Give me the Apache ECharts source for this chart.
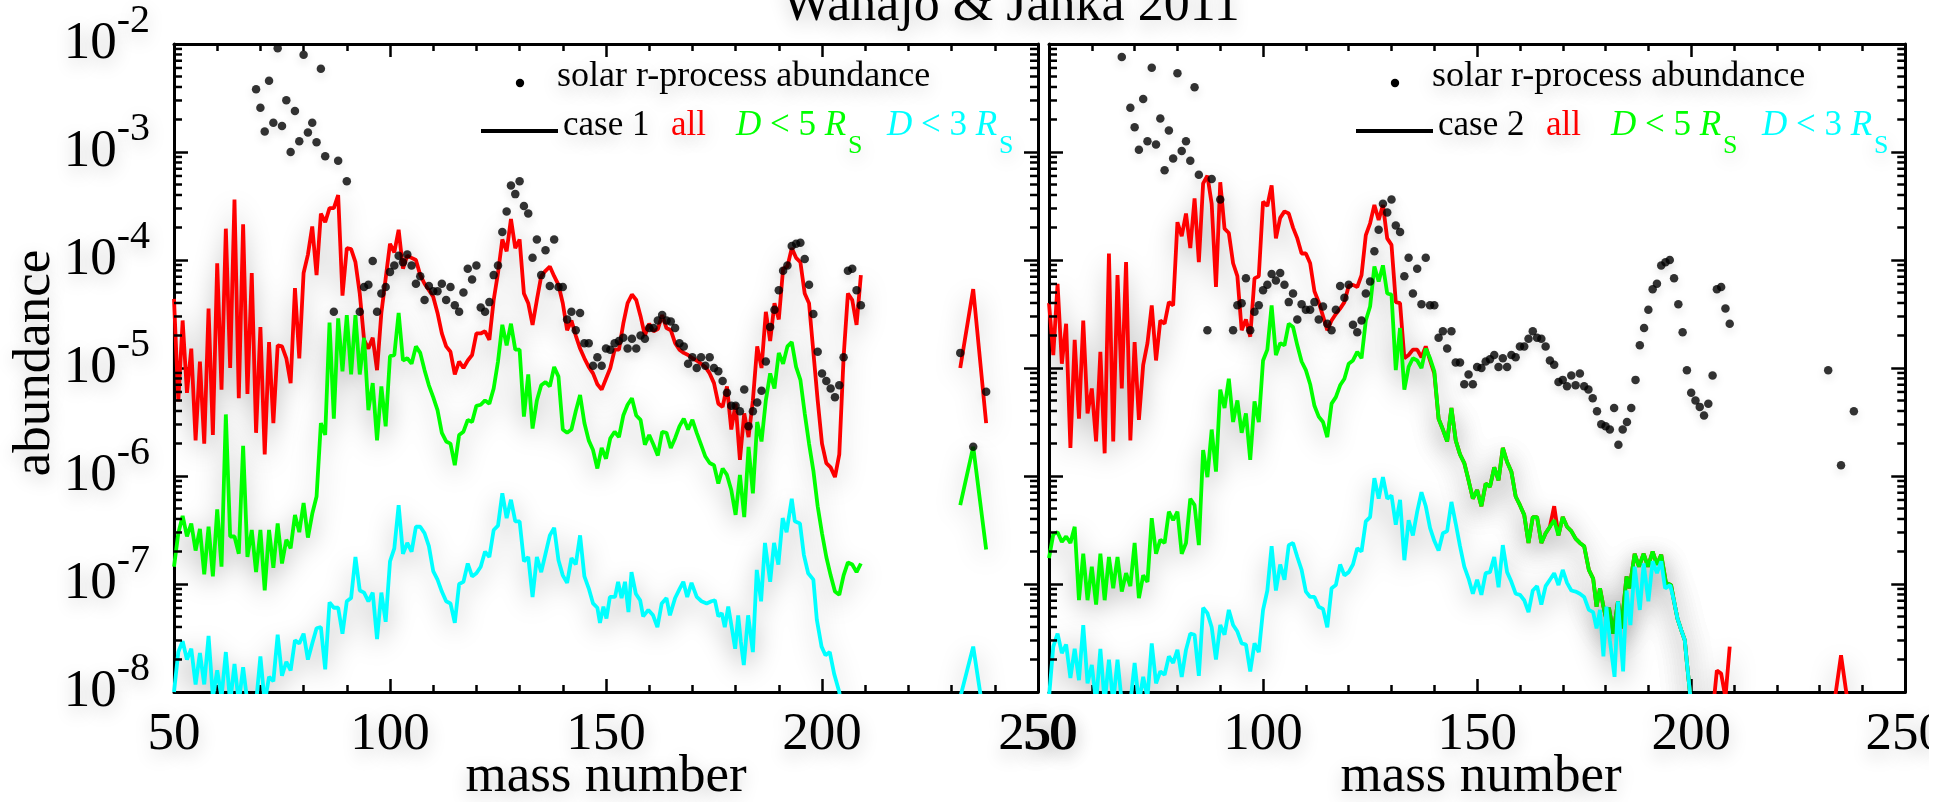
<!DOCTYPE html>
<html>
<head>
<meta charset="utf-8">
<title>Wanajo & Janka 2011</title>
<script src="https://cdn.jsdelivr.net/npm/echarts@6/dist/echarts.min.js"></script>
<style>
  html, body { margin: 0; padding: 0; background: #fff; }
  #chart { width: 1948px; height: 802px; }
</style>
</head>
<body>
<div id="chart"></div>
<script>
// every series: [mass number, log10(abundance)]
// solar r-process abundance (left panel, scaled to case 1)
const solarCase1 = [[69,-2.42],[70,-2.59],[71,-2.81],[72,-2.34],[73,-2.73],[74,-2.04],[75,-2.76],[76,-2.52],[77,-3.00],[78,-2.62],[79,-2.90],[80,-2.10],[81,-2.82],[82,-2.73],[83,-2.91],[84,-2.23],[85,-3.04],[87,-4.48],[88,-3.08],[90,-3.27],[93,-4.48],[94,-4.25],[95,-4.23],[96,-4.01],[97,-4.48],[98,-4.31],[99,-4.25],[100,-4.11],[101,-4.05],[102,-3.96],[103,-4.02],[104,-3.95],[105,-4.05],[106,-4.22],[107,-4.15],[108,-4.37],[109,-4.24],[110,-4.29],[111,-4.29],[112,-4.22],[113,-4.37],[114,-4.25],[115,-4.42],[116,-4.48],[117,-4.30],[118,-4.08],[119,-4.18],[120,-4.05],[121,-4.44],[122,-4.48],[123,-4.39],[124,-4.14],[125,-4.05],[126,-3.74],[127,-3.55],[128,-3.31],[129,-3.39],[130,-3.27],[131,-3.50],[132,-3.57],[133,-3.98],[134,-3.81],[135,-4.14],[136,-3.91],[137,-4.24],[138,-3.81],[139,-4.25],[140,-4.25],[141,-4.55],[142,-4.48],[143,-4.65],[144,-4.49],[145,-4.77],[146,-4.77],[147,-4.98],[148,-4.90],[149,-4.98],[150,-4.82],[151,-4.83],[152,-4.77],[153,-4.75],[154,-4.72],[155,-4.82],[156,-4.73],[157,-4.82],[158,-4.70],[159,-4.73],[160,-4.63],[161,-4.63],[162,-4.56],[163,-4.51],[164,-4.56],[165,-4.57],[166,-4.63],[167,-4.77],[168,-4.80],[169,-4.96],[170,-4.90],[171,-5.00],[172,-4.90],[173,-4.98],[174,-4.90],[175,-5.00],[176,-5.03],[177,-5.12],[178,-5.23],[179,-5.35],[180,-5.35],[181,-5.40],[182,-5.20],[183,-5.54],[184,-5.40],[185,-5.32],[186,-5.21],[187,-4.94],[188,-4.62],[189,-4.46],[190,-4.28],[191,-4.10],[192,-4.05],[193,-3.87],[194,-3.85],[195,-3.84],[196,-3.99],[197,-4.23],[198,-4.50],[199,-4.85],[200,-5.05],[201,-5.12],[202,-5.19],[203,-5.27],[204,-5.16],[205,-4.90],[206,-4.10],[207,-4.08],[208,-4.28],[209,-4.42],[232,-4.86],[235,-5.73],[238,-5.22]];

// solar r-process abundance (right panel, scaled to case 2)
const solarCase2 = [[67,-2.12],[69,-2.59],[70,-2.77],[71,-2.98],[72,-2.51],[73,-2.90],[74,-2.22],[75,-2.93],[76,-2.69],[77,-3.17],[78,-2.80],[79,-3.06],[80,-2.27],[81,-2.99],[82,-2.90],[83,-3.08],[84,-2.40],[85,-3.21],[87,-4.65],[88,-3.25],[90,-3.44],[93,-4.65],[94,-4.42],[95,-4.40],[96,-4.17],[97,-4.65],[98,-4.48],[99,-4.42],[100,-4.28],[101,-4.23],[102,-4.13],[103,-4.19],[104,-4.12],[105,-4.23],[106,-4.39],[107,-4.31],[108,-4.55],[109,-4.41],[110,-4.46],[111,-4.46],[112,-4.39],[113,-4.55],[114,-4.43],[115,-4.59],[116,-4.65],[117,-4.46],[118,-4.24],[119,-4.35],[120,-4.23],[121,-4.60],[122,-4.67],[123,-4.56],[124,-4.31],[125,-4.20],[126,-3.92],[127,-3.72],[128,-3.48],[129,-3.56],[130,-3.44],[131,-3.68],[132,-3.74],[133,-4.15],[134,-3.98],[135,-4.31],[136,-4.08],[137,-4.41],[138,-3.98],[139,-4.42],[140,-4.42],[141,-4.72],[142,-4.66],[143,-4.82],[144,-4.66],[145,-4.95],[146,-4.95],[147,-5.15],[148,-5.06],[149,-5.15],[150,-4.99],[151,-5.00],[152,-4.94],[153,-4.92],[154,-4.88],[155,-4.99],[156,-4.91],[157,-4.99],[158,-4.88],[159,-4.90],[160,-4.80],[161,-4.80],[162,-4.73],[163,-4.66],[164,-4.72],[165,-4.73],[166,-4.80],[167,-4.93],[168,-4.97],[169,-5.13],[170,-5.11],[171,-5.17],[172,-5.07],[173,-5.16],[174,-5.05],[175,-5.17],[176,-5.20],[177,-5.28],[178,-5.40],[179,-5.52],[180,-5.54],[181,-5.57],[182,-5.37],[183,-5.71],[184,-5.57],[185,-5.50],[186,-5.37],[187,-5.11],[188,-4.79],[189,-4.63],[190,-4.46],[191,-4.27],[192,-4.22],[193,-4.05],[194,-4.02],[195,-4.00],[196,-4.17],[197,-4.41],[198,-4.67],[199,-5.02],[200,-5.23],[201,-5.30],[202,-5.36],[203,-5.44],[204,-5.33],[205,-5.07],[206,-4.27],[207,-4.25],[208,-4.45],[209,-4.59],[232,-5.02],[235,-5.90],[238,-5.40]];

// case 1
const allCase1 = [[50,-4.36],[51,-5.31],[52,-4.56],[53,-5.23],[54,-4.82],[55,-5.67],[56,-4.94],[57,-5.70],[58,-4.45],[59,-5.62],[60,-4.03],[61,-5.20],[62,-3.71],[63,-5.00],[64,-3.44],[65,-5.28],[66,-3.67],[67,-5.24],[68,-4.12],[69,-5.60],[70,-4.62],[71,-5.80],[72,-4.76],[73,-5.51],[74,-4.79],[75,-4.80],[76,-4.91],[77,-5.14],[78,-4.26],[79,-4.91],[80,-4.12],[81,-3.95],[82,-3.69],[83,-4.14],[84,-3.57],[85,-3.65],[86,-3.52],[87,-3.52],[88,-3.40],[89,-4.33],[90,-3.89],[91,-3.90],[92,-4.02],[93,-4.31],[94,-4.74],[95,-4.82],[96,-4.72],[97,-5.02],[98,-4.49],[99,-4.17],[100,-3.85],[101,-3.93],[102,-3.72],[103,-4.08],[104,-3.96],[105,-3.98],[106,-4.00],[107,-4.14],[108,-4.22],[109,-4.28],[110,-4.34],[111,-4.49],[112,-4.68],[113,-4.80],[114,-4.85],[115,-5.06],[116,-4.94],[117,-5.00],[118,-4.93],[119,-4.88],[120,-4.68],[121,-4.68],[122,-4.66],[123,-4.74],[124,-4.37],[125,-4.12],[126,-3.81],[127,-3.92],[128,-3.62],[129,-3.89],[130,-3.81],[131,-4.31],[132,-4.40],[133,-4.60],[134,-4.37],[135,-4.15],[136,-4.10],[137,-4.06],[138,-4.15],[139,-4.23],[140,-4.40],[141,-4.65],[142,-4.56],[143,-4.70],[144,-4.82],[145,-4.91],[146,-4.99],[147,-5.05],[148,-5.15],[149,-5.20],[150,-5.10],[151,-5.00],[152,-4.83],[153,-4.83],[154,-4.59],[155,-4.40],[156,-4.32],[157,-4.37],[158,-4.52],[159,-4.70],[160,-4.59],[161,-4.66],[162,-4.64],[163,-4.51],[164,-4.63],[165,-4.65],[166,-4.77],[167,-4.83],[168,-4.86],[169,-4.88],[170,-4.91],[171,-4.93],[172,-4.96],[173,-4.99],[174,-5.05],[175,-5.14],[176,-5.33],[177,-5.36],[178,-5.17],[179,-5.57],[180,-5.33],[181,-5.85],[182,-5.42],[183,-5.64],[184,-5.30],[185,-4.80],[186,-5.00],[187,-4.48],[188,-4.75],[189,-4.40],[190,-4.55],[191,-4.08],[192,-4.06],[193,-3.89],[194,-3.98],[195,-4.02],[196,-4.31],[197,-4.40],[198,-4.85],[199,-5.30],[200,-5.70],[201,-5.88],[202,-5.92],[203,-6.01],[204,-5.80],[205,-4.90],[206,-4.31],[207,-4.37],[208,-4.60],[209,-4.14],[220,null],[232,-5.00],[235,-4.27],[238,-5.51]];

const d5Case1 = [[50,-6.84],[51,-6.53],[52,-6.37],[53,-6.56],[54,-6.44],[55,-6.69],[56,-6.49],[57,-6.91],[58,-6.47],[59,-6.93],[60,-6.31],[61,-6.84],[62,-5.43],[63,-6.56],[64,-6.56],[65,-6.72],[66,-5.72],[67,-6.75],[68,-6.50],[69,-6.89],[70,-6.50],[71,-7.06],[72,-6.50],[73,-6.85],[74,-6.44],[75,-6.81],[76,-6.59],[77,-6.67],[78,-6.36],[79,-6.52],[80,-6.25],[81,-6.57],[82,-6.35],[83,-6.19],[84,-5.51],[85,-5.62],[86,-4.58],[87,-5.47],[88,-4.54],[89,-5.03],[90,-4.51],[91,-5.06],[92,-4.51],[93,-5.06],[94,-4.72],[95,-5.39],[96,-5.14],[97,-5.67],[98,-5.17],[99,-5.54],[100,-4.89],[101,-4.88],[102,-4.49],[103,-4.93],[104,-4.91],[105,-4.96],[106,-4.80],[107,-4.86],[108,-5.02],[109,-5.16],[110,-5.27],[111,-5.39],[112,-5.60],[113,-5.68],[114,-5.70],[115,-5.90],[116,-5.62],[117,-5.59],[118,-5.48],[119,-5.50],[120,-5.35],[121,-5.34],[122,-5.30],[123,-5.33],[124,-5.19],[125,-4.94],[126,-4.60],[127,-4.79],[128,-4.59],[129,-4.83],[130,-4.83],[131,-5.45],[132,-5.06],[133,-5.56],[134,-5.30],[135,-5.16],[136,-5.13],[137,-5.17],[138,-4.99],[139,-5.08],[140,-5.57],[141,-5.60],[142,-5.57],[143,-5.40],[144,-5.25],[145,-5.51],[146,-5.67],[147,-5.76],[148,-5.93],[149,-5.74],[150,-5.84],[151,-5.65],[152,-5.59],[153,-5.64],[154,-5.44],[155,-5.34],[156,-5.28],[157,-5.44],[158,-5.48],[159,-5.71],[160,-5.62],[161,-5.71],[162,-5.81],[163,-5.59],[164,-5.60],[165,-5.74],[166,-5.65],[167,-5.54],[168,-5.47],[169,-5.57],[170,-5.48],[171,-5.60],[172,-5.71],[173,-5.82],[174,-5.88],[175,-5.90],[176,-6.07],[177,-5.93],[178,-5.99],[179,-6.13],[180,-6.36],[181,-5.99],[182,-6.38],[183,-5.73],[184,-6.16],[185,-5.50],[186,-5.68],[187,-5.30],[188,-5.05],[189,-5.19],[190,-4.86],[191,-4.96],[192,-4.80],[193,-4.76],[194,-4.99],[195,-5.11],[196,-5.42],[197,-5.70],[198,-5.95],[199,-6.28],[200,-6.53],[201,-6.75],[202,-6.92],[203,-7.07],[204,-7.10],[205,-6.92],[206,-6.80],[207,-6.82],[208,-6.89],[209,-6.81],[220,null],[232,-6.27],[235,-5.73],[238,-6.68]];

const d3Case1 = [[50,-8.00],[51,-7.63],[52,-7.53],[53,-7.70],[54,-7.60],[55,-7.93],[56,-7.64],[57,-7.93],[58,-7.48],[59,-8.05],[60,-7.80],[61,-8.05],[62,-7.63],[63,-8.10],[64,-7.74],[65,-8.10],[66,-7.77],[67,-8.10],[68,-8.10],[69,-8.10],[70,-7.67],[71,-8.10],[72,-7.86],[73,-7.90],[74,-7.47],[75,-7.85],[76,-7.72],[77,-7.80],[78,-7.52],[79,-7.55],[80,-7.46],[81,-7.70],[82,-7.55],[83,-7.41],[84,-7.40],[85,-7.79],[86,-7.17],[87,-7.22],[88,-7.22],[89,-7.46],[90,-7.16],[91,-7.13],[92,-6.75],[93,-7.06],[94,-7.08],[95,-7.16],[96,-7.08],[97,-7.51],[98,-7.08],[99,-7.35],[100,-6.79],[101,-6.67],[102,-6.27],[103,-6.72],[104,-6.62],[105,-6.70],[106,-6.47],[107,-6.47],[108,-6.53],[109,-6.65],[110,-6.88],[111,-6.96],[112,-7.07],[113,-7.16],[114,-7.18],[115,-7.36],[116,-7.00],[117,-6.98],[118,-6.81],[119,-6.93],[120,-6.90],[121,-6.84],[122,-6.70],[123,-6.75],[124,-6.50],[125,-6.46],[126,-6.16],[127,-6.39],[128,-6.22],[129,-6.42],[130,-6.42],[131,-6.79],[132,-6.75],[133,-7.12],[134,-6.75],[135,-6.89],[136,-6.72],[137,-6.55],[138,-6.48],[139,-6.78],[140,-6.92],[141,-6.99],[142,-6.76],[143,-6.82],[144,-6.55],[145,-6.93],[146,-7.04],[147,-7.18],[148,-7.22],[148.6,-7.36],[149.4,-7.21],[150.1,-7.32],[150.9,-7.12],[152.1,-7.12],[152.8,-6.98],[153.6,-7.13],[154.4,-6.98],[155.2,-7.26],[155.9,-6.89],[156.9,-7.09],[157.9,-7.15],[158.6,-7.30],[159.8,-7.24],[160.9,-7.29],[161.9,-7.40],[162.9,-7.18],[164,-7.13],[164.8,-7.29],[166,-7.13],[167.1,-7.04],[167.9,-6.98],[168.8,-7.12],[169.8,-6.99],[171,-7.12],[172.1,-7.16],[173.3,-7.18],[174.4,-7.16],[175.2,-7.15],[176,-7.30],[176.8,-7.27],[177.5,-7.40],[178.3,-7.21],[179.1,-7.40],[179.9,-7.60],[180.6,-7.29],[181.2,-7.53],[181.9,-7.75],[182.9,-7.29],[184,-7.63],[184.9,-6.87],[185.9,-7.16],[186.8,-6.62],[188,-6.98],[188.9,-6.62],[189.9,-6.82],[190.9,-6.39],[191.8,-6.52],[193,-6.21],[193.7,-6.42],[194.9,-6.44],[195.8,-6.73],[196.8,-6.90],[198,-6.96],[198.8,-7.33],[199.9,-7.58],[200.8,-7.66],[201.8,-7.63],[202.8,-7.83],[204,-8.00],[205,-8.30],[220,null],[232,-8.05],[235,-7.58],[238,-8.37]];

// case 2
const allCase2 = [[50,-4.40],[51,-4.88],[52,-4.22],[53,-4.96],[54,-4.59],[55,-5.74],[56,-4.74],[57,-5.47],[58,-4.56],[59,-5.42],[60,-5.19],[61,-5.68],[62,-4.85],[63,-5.79],[64,-3.94],[65,-5.68],[66,-4.14],[67,-5.19],[68,-4.02],[69,-5.67],[70,-4.76],[71,-5.48],[72,-4.97],[73,-4.77],[74,-4.42],[75,-4.93],[76,-4.56],[77,-4.59],[78,-4.39],[79,-4.42],[80,-3.65],[81,-3.78],[82,-3.57],[83,-3.89],[84,-3.43],[85,-4.02],[86,-3.29],[87,-3.22],[88,-3.48],[89,-4.25],[90,-3.28],[91,-3.71],[92,-3.75],[93,-4.03],[94,-4.15],[95,-4.65],[96,-4.55],[97,-4.71],[98,-4.17],[99,-4.15],[100,-3.46],[101,-3.50],[102,-3.31],[103,-3.80],[104,-3.61],[105,-3.55],[106,-3.57],[107,-3.70],[108,-3.80],[109,-3.94],[110,-3.94],[111,-4.03],[112,-4.29],[113,-4.39],[114,-4.52],[115,-4.65],[116,-4.56],[117,-4.50],[118,-4.45],[119,-4.39],[120,-4.24],[121,-4.23],[122,-4.25],[123,-4.14],[124,-3.77],[125,-3.66],[126,-3.49],[127,-3.63],[128,-3.49],[129,-3.80],[130,-3.86],[131,-4.39],[132,-4.40],[133,-4.91],[134,-4.88],[135,-4.83],[136,-4.83],[137,-4.90],[138,-4.80],[139,-4.93],[140,-5.05],[141,-5.47],[142,-5.57],[143,-5.68],[144,-5.37],[145,-5.67],[146,-5.80],[147,-5.88],[148,-6.04],[149,-6.21],[150,-6.13],[151,-6.28],[152,-6.07],[153,-6.10],[154,-5.92],[155,-6.04],[156,-5.74],[157,-5.87],[158,-5.96],[159,-6.19],[160,-6.27],[161,-6.36],[162,-6.62],[163,-6.38],[164,-6.38],[165,-6.62],[166,-6.53],[167,-6.47],[168,-6.28],[169,-6.55],[170,-6.38],[171,-6.47],[172,-6.51],[173,-6.58],[174,-6.62],[175,-6.65],[176.1,-6.87],[177.1,-6.95],[177.9,-7.21],[178.7,-7.04],[179.5,-7.21],[180.2,-7.33],[180.8,-7.22],[181.8,-7.46],[182.9,-7.16],[183.7,-7.41],[184.9,-6.93],[185.6,-7.04],[186.8,-6.72],[187.8,-6.84],[188.9,-6.72],[189.9,-6.84],[191,-6.70],[192,-6.82],[193,-6.73],[194.1,-6.99],[195.3,-7.01],[196,-7.16],[196.8,-7.32],[197.7,-7.43],[198.5,-7.52],[199,-7.73],[199.7,-8.00],[201,-8.40],[204,-8.40],[205,-8.20],[206,-7.80],[207,-7.83],[208,-8.05],[209,-7.58],[220,null],[232,-8.50],[235,-7.66],[238,-8.50]];

const d5Case2 = [[50,-6.76],[51,-6.54],[52,-6.52],[53,-6.61],[54,-6.56],[55,-6.62],[56,-6.47],[57,-7.15],[58,-6.72],[59,-7.15],[60,-6.84],[61,-7.19],[62,-6.72],[63,-7.15],[64,-6.75],[65,-7.04],[66,-6.75],[67,-7.07],[68,-6.90],[69,-7.02],[70,-6.62],[71,-7.13],[72,-6.92],[73,-6.98],[74,-6.39],[75,-6.72],[76,-6.59],[77,-6.62],[78,-6.33],[79,-6.41],[80,-6.33],[81,-6.72],[82,-6.62],[83,-6.21],[84,-6.27],[85,-6.64],[86,-5.76],[87,-6.01],[88,-5.57],[89,-5.96],[90,-5.20],[91,-5.37],[92,-5.10],[93,-5.50],[94,-5.30],[95,-5.60],[96,-5.42],[97,-5.85],[98,-5.31],[99,-5.50],[100,-4.93],[101,-4.83],[102,-4.42],[103,-4.88],[104,-4.77],[105,-4.79],[106,-4.59],[107,-4.62],[108,-4.79],[109,-4.94],[110,-5.02],[111,-5.15],[112,-5.35],[113,-5.45],[114,-5.50],[115,-5.64],[116,-5.33],[117,-5.27],[118,-5.16],[119,-5.10],[120,-4.96],[121,-4.93],[122,-4.85],[123,-4.91],[124,-4.56],[125,-4.43],[126,-4.06],[127,-4.20],[128,-4.05],[129,-4.31],[130,-4.32],[131,-5.02],[132,-4.63],[133,-5.20],[134,-4.99],[135,-4.91],[136,-4.93],[137,-5.00],[138,-4.82],[139,-4.91],[140,-5.03],[141,-5.47],[142,-5.57],[143,-5.68],[144,-5.37],[145,-5.67],[146,-5.80],[147,-5.88],[148,-6.04],[149,-6.21],[150,-6.13],[151,-6.28],[152,-6.07],[153,-6.10],[154,-5.92],[155,-6.04],[156,-5.74],[157,-5.87],[158,-5.96],[159,-6.19],[160,-6.27],[161,-6.36],[162,-6.62],[163,-6.38],[164,-6.38],[165,-6.62],[166,-6.53],[167,-6.47],[168,-6.41],[169,-6.55],[170,-6.38],[171,-6.47],[172,-6.51],[173,-6.58],[174,-6.62],[175,-6.65],[176.1,-6.87],[177.1,-6.95],[177.9,-7.21],[178.7,-7.04],[179.5,-7.21],[180.2,-7.33],[180.8,-7.22],[181.8,-7.46],[182.9,-7.16],[183.7,-7.41],[184.9,-6.93],[185.6,-7.04],[186.8,-6.72],[187.8,-6.84],[188.9,-6.72],[189.9,-6.84],[191,-6.70],[192,-6.82],[193,-6.73],[194.1,-6.99],[195.3,-7.01],[196,-7.16],[196.8,-7.32],[197.7,-7.43],[198.5,-7.52],[199,-7.73],[199.7,-8.00],[201,-8.40]];

const d3Case2 = [[50,-8.05],[51,-7.58],[52,-7.46],[53,-7.64],[54,-7.56],[55,-7.87],[56,-7.60],[57,-7.89],[58,-7.38],[59,-7.92],[60,-7.75],[61,-8.10],[62,-7.60],[63,-8.10],[64,-7.70],[65,-8.10],[66,-7.70],[67,-8.10],[68,-8.10],[69,-8.10],[70,-7.73],[71,-8.10],[72,-7.86],[73,-8.05],[74,-7.55],[75,-7.92],[76,-7.81],[77,-7.84],[78,-7.67],[79,-7.73],[80,-7.61],[81,-7.86],[82,-7.61],[83,-7.46],[84,-7.47],[85,-7.85],[86,-7.22],[87,-7.27],[88,-7.40],[89,-7.70],[90,-7.38],[91,-7.47],[92,-7.24],[93,-7.38],[94,-7.44],[95,-7.55],[96,-7.56],[97,-7.81],[98,-7.55],[99,-7.63],[100,-7.24],[101,-7.06],[102,-6.65],[103,-7.06],[104,-6.82],[105,-6.96],[106,-6.64],[107,-6.62],[108,-6.75],[109,-6.87],[110,-7.07],[111,-7.12],[112,-7.12],[113,-7.21],[114,-7.23],[115,-7.40],[116,-7.04],[117,-7.01],[118,-6.82],[119,-6.92],[120,-6.89],[121,-6.82],[122,-6.67],[123,-6.70],[124,-6.42],[125,-6.38],[126,-6.02],[127,-6.21],[128,-6.01],[129,-6.21],[130,-6.18],[131,-6.45],[132,-6.22],[133,-6.78],[134,-6.41],[135,-6.55],[136,-6.33],[137,-6.15],[138,-6.28],[139,-6.48],[140,-6.60],[141,-6.69],[142,-6.53],[143,-6.51],[144,-6.24],[145,-6.44],[146,-6.65],[147,-6.84],[148,-6.95],[149,-7.09],[150,-6.96],[151,-7.10],[152,-6.90],[153,-6.89],[154,-6.75],[155,-7.03],[156,-6.64],[157,-6.89],[158,-6.98],[159,-7.09],[160,-7.10],[161,-7.15],[162,-7.26],[163,-7.06],[164,-7.02],[165,-7.19],[166,-7.02],[167,-6.96],[168,-6.90],[169,-7.01],[170,-6.87],[171,-6.99],[172,-7.06],[173,-7.07],[174,-7.09],[175,-7.12],[176.1,-7.24],[177.1,-7.26],[177.9,-7.41],[178.7,-7.24],[179.5,-7.67],[180.2,-7.21],[181,-7.52],[182.1,-7.86],[182.9,-7.16],[184.1,-7.81],[184.9,-7.06],[185.8,-7.38],[186.8,-6.84],[188,-7.24],[188.9,-6.81],[190,-7.16],[191,-6.79],[192,-6.90],[193,-6.79],[193.9,-7.04],[195.1,-7.01],[196,-7.16],[196.8,-7.32],[197.7,-7.43],[198.5,-7.52],[199,-7.73],[199.7,-8.00],[201,-8.40]];

// axis ranges and tick marks
const massRange = [50, 250];
const abundRange = [1e-8, 1e-2];
const minorDecades = [-8, -7, -6, -5, -4, -3];
const minorSteps = [2, 3, 4, 5, 6, 7, 8, 9];

const RED = '#ff0000', GREEN = '#00ff00', CYAN = '#00ffff';
const FONT = '"Liberation Serif", "Times New Roman", Times, serif';
const gridLefts = [174, 1049];

function toPoints(list) {
  return list.map(p => [p[0], p[1] === null ? null : Math.pow(10, p[1])]);
}

const minorTickData = [];
minorDecades.forEach(e => minorSteps.forEach(m => minorTickData.push([massRange[0], m * Math.pow(10, e)])));

const halo = { textShadowColor: 'rgba(0,0,0,0.22)', textShadowBlur: 18, textShadowOffsetY: 6 };

const grids = [], xAxes = [], yAxes = [];
gridLefts.forEach((left, i) => {
  grids.push({ left: left, top: 44, width: 864, height: 648 });
  const line = { onZero: false, lineStyle: { color: '#000', width: 3 } };
  const tick = { show: true, inside: true, length: 13, lineStyle: { color: '#000', width: 2.5 } };
  const xBase = {
    gridIndex: i, type: 'value', min: massRange[0], max: massRange[1], interval: 50,
    axisLine: line, axisTick: tick, splitLine: { show: false },
    minorTick: { show: true, splitNumber: 5, length: 7, lineStyle: { color: '#000', width: 2.5 } }
  };
  xAxes.push(Object.assign({}, xBase, {
    position: 'bottom',
    axisLabel: Object.assign({ fontFamily: FONT, fontSize: 53, lineHeight: 53, color: '#000', margin: 17 }, halo)
  }));
  xAxes.push(Object.assign({}, xBase, { position: 'top', axisLabel: { show: false } }));

  const yBase = {
    gridIndex: i, type: 'log', logBase: 10, min: abundRange[0], max: abundRange[1], splitNumber: 6,
    axisLine: line, axisTick: Object.assign({}, tick, { length: 14 }),
    splitLine: { show: false }, minorTick: { show: false }
  };
  yAxes.push(Object.assign({}, yBase, {
    position: 'left',
    axisLabel: {
      show: i === 0, margin: 24,
      formatter: v => '{m|10}{e|' + Math.round(Math.log10(v)) + '}',
      rich: {
        m: Object.assign({ fontFamily: FONT, fontSize: 53, lineHeight: 86, color: '#000' }, halo),
        e: Object.assign({ fontFamily: FONT, fontSize: 40, lineHeight: 40, verticalAlign: 'top', color: '#000' }, halo)
      }
    }
  }));
  yAxes.push(Object.assign({}, yBase, { position: 'right', axisLabel: { show: false } }));
});

function renderMinorTicks(params, api) {
  const v = api.value(1);
  const l = api.coord([massRange[0], v]);
  const r = api.coord([massRange[1], v]);
  const st = { stroke: '#000', lineWidth: 2.5 };
  return {
    type: 'group',
    children: [
      { type: 'line', shape: { x1: l[0], y1: l[1], x2: l[0] + 8, y2: l[1] }, style: st },
      { type: 'line', shape: { x1: r[0] - 8, y1: r[1], x2: r[0], y2: r[1] }, style: st }
    ]
  };
}

function lineSeries(name, data, color, ax) {
  return {
    name: name, type: 'line', xAxisIndex: ax, yAxisIndex: ax, data: toPoints(data),
    symbol: 'none', showSymbol: false, connectNulls: false, clip: true, z: 3,
    lineStyle: { color: color, width: 3.8, shadowColor: 'rgba(0,0,0,0.28)', shadowBlur: 26, shadowOffsetY: 8 },
    emphasis: { disabled: true }
  };
}

function solarSeries(data, ax) {
  return {
    name: 'solar', type: 'scatter', xAxisIndex: ax, yAxisIndex: ax, data: toPoints(data),
    symbol: 'circle', symbolSize: 8.5, z: 5,
    itemStyle: { color: '#000', shadowColor: 'rgba(0,0,0,0.15)', shadowBlur: 10, shadowOffsetY: 4 },
    emphasis: { disabled: true }
  };
}

const series = [];
[[allCase1, d5Case1, d3Case1, solarCase1], [allCase2, d5Case2, d3Case2, solarCase2]].forEach((set, i) => {
  const ax = i * 2;
  series.push(lineSeries('all', set[0], RED, ax));
  series.push(lineSeries('D<5', set[1], GREEN, ax));
  series.push(lineSeries('D<3', set[2], CYAN, ax));
  series.push(solarSeries(set[3], ax));
  series.push({
    type: 'custom', xAxisIndex: ax, yAxisIndex: ax, data: minorTickData,
    renderItem: renderMinorTicks, silent: true, clip: false, z: 10
  });
});

function textEl(x, y, text, size, fill, extra, fontStyle) {
  return Object.assign({
    type: 'text', x: x, y: y, silent: true,
    style: Object.assign({
      text: text, font: (fontStyle ? fontStyle + ' ' : '') + size + 'px ' + FONT, fill: fill,
      align: 'left', verticalAlign: 'middle', textAlign: 'left', textVerticalAlign: 'middle'
    }, halo)
  }, extra || {});
}

function radiusText(x, digit, color) {
  // "D < n R" with the S subscript placed right after the italic R
  return [
    { type: 'text', x: x, y: 126, silent: true,
      style: {
        text: '{i|D}{n| < ' + digit + ' }{i|R}', align: 'left', verticalAlign: 'middle',
        rich: {
          i: { fontFamily: FONT, fontSize: 35, fontStyle: 'italic', fill: color },
          n: { fontFamily: FONT, fontSize: 35, fill: color }
        }
      } },
    textEl(x + 112, 146, 'S', 26, color)
  ];
}

function legend(dx, caseText) {
  return [
    { type: 'circle', silent: true, shape: { cx: 520 + dx, cy: 83, r: 4.2 }, style: { fill: '#000' } },
    textEl(557 + dx, 77, 'solar r-process abundance', 36, '#000'),
    { type: 'line', silent: true, shape: { x1: 481 + dx, y1: 131, x2: 558 + dx, y2: 131 }, style: { stroke: '#000', lineWidth: 4 } },
    textEl(563 + dx, 126, caseText, 35, '#000'),
    textEl(671 + dx, 126, 'all', 35, RED)
  ].concat(radiusText(736 + dx, 5, GREEN), radiusText(887 + dx, 3, CYAN));
}

const centred = { align: 'center', textAlign: 'center' };
const titles = [
  textEl(1011, 6, 'Wanajo & Janka 2011', 52, '#000'),
  textEl(606, 777, 'mass number', 53, '#000'),
  textEl(1481, 777, 'mass number', 53, '#000'),
  textEl(35, 363, 'abundance', 53, '#000', { rotation: Math.PI / 2 })
];
titles.forEach(t => Object.assign(t.style, centred));

// the original figure is cropped a little short of the right edge
const cropMask = { type: 'rect', silent: true, z: 100, shape: { x: 1929, y: 0, width: 30, height: 802 }, style: { fill: '#ffffff' } };

const graphic = [].concat(legend(0, 'case 1'), legend(875, 'case 2'), titles, [cropMask]);

const chart = echarts.init(document.getElementById('chart'), null, { renderer: 'canvas' });
chart.setOption({
  backgroundColor: '#ffffff',
  animation: false,
  grid: grids,
  xAxis: xAxes,
  yAxis: yAxes,
  series: series,
  graphic: graphic
});
</script>
</body>
</html>
